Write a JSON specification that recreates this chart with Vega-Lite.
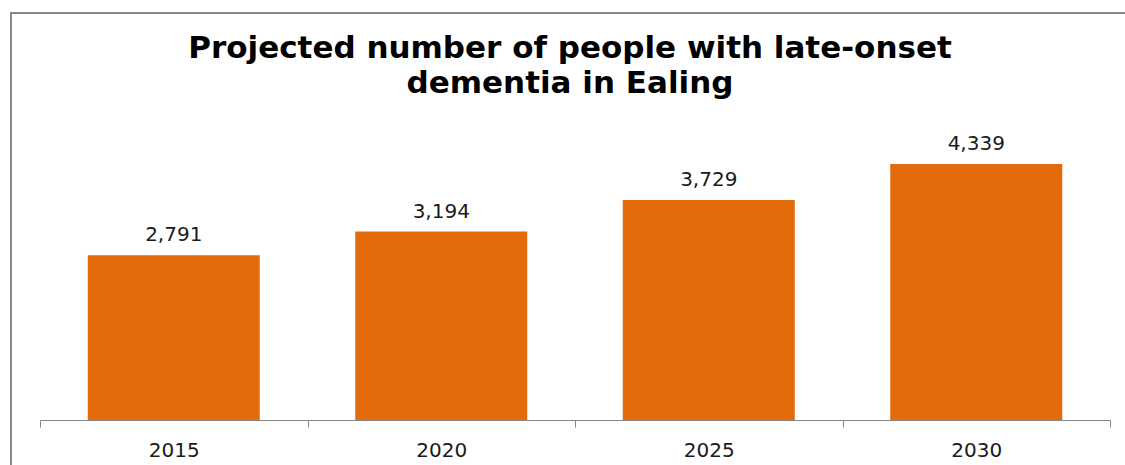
{
  "$schema": "https://vega.github.io/schema/vega-lite/v6.json",
  "width": 1118,
  "height": 456,
  "autosize": {"type": "none"},
  "padding": {"left": 11, "top": 13, "right": -4, "bottom": -4},
  "background": "white",
  "config": {"view": {"stroke": "#878787", "strokeWidth": 2}},
  "title": {
    "text": ["Projected number of people with late-onset", "dementia in Ealing"],
    "font": "DejaVu Sans",
    "fontSize": 31,
    "fontWeight": "bold",
    "color": "#000000",
    "anchor": "middle",
    "frame": "group",
    "baseline": "alphabetic",
    "lineHeight": 35,
    "offset": -111
  },
  "data": {
    "values": [
      {"year": "2015", "people": 2791},
      {"year": "2020", "people": 3194},
      {"year": "2025", "people": 3729},
      {"year": "2030", "people": 4339}
    ]
  },
  "encoding": {
    "x": {
      "field": "year",
      "type": "ordinal",
      "scale": {"range": [29, 1099], "paddingInner": 0, "paddingOuter": 0},
      "axis": {
        "title": null,
        "orient": "bottom",
        "offset": -49,
        "labelAngle": 0,
        "tickBand": "extent",
        "tickSize": 7,
        "tickColor": "#878787",
        "domainColor": "#878787",
        "domainWidth": 1,
        "labelFont": "DejaVu Sans",
        "labelFontSize": 20,
        "labelColor": "#1a1a1a",
        "labelPadding": 13
      }
    },
    "y": {
      "field": "people",
      "type": "quantitative",
      "scale": {"domain": [0, 5000], "range": [407, 112]},
      "axis": null
    }
  },
  "layer": [
    {"mark": {"type": "bar", "color": "#E36C0A", "width": {"band": 0.643}}},
    {
      "mark": {"type": "text", "baseline": "alphabetic", "dy": -14, "font": "DejaVu Sans", "fontSize": 20, "color": "#1a1a1a"},
      "encoding": {"text": {"field": "people", "type": "quantitative", "format": ","}}
    }
  ]
}
